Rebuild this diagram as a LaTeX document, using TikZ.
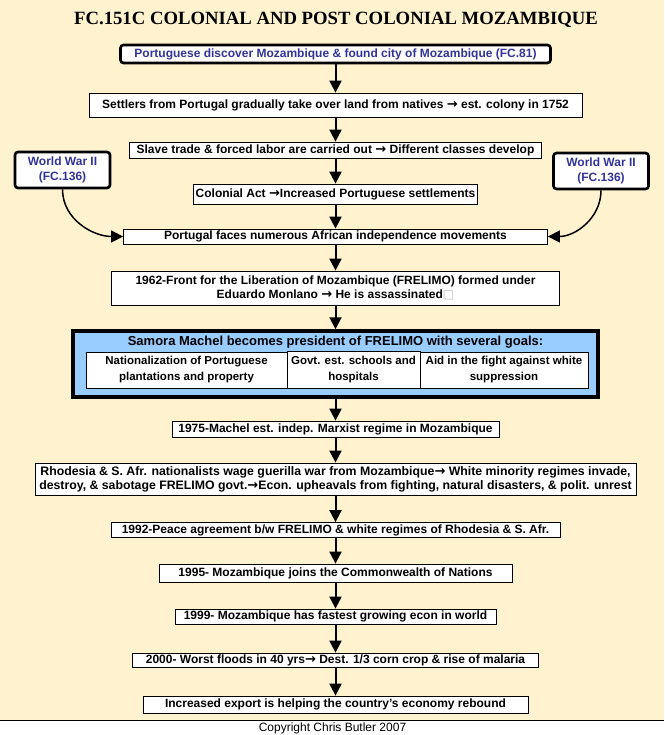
\documentclass[tikz,border=0pt]{standalone}
\usepackage{fontspec}
\setmainfont{Liberation Sans}
\newfontfamily\titlefont{Liberation Serif}
\newfontfamily\symfont{DejaVu Sans}
\usetikzlibrary{arrows.meta}
\definecolor{bgyellow}{RGB}{255,242,207}
\definecolor{boxblue}{RGB}{153,204,255}
\definecolor{linkblue}{RGB}{51,51,153}
\newcommand{\rar}{{\symfont\bfseries\fontsize{13}{14}\selectfont →}}
\begin{document}
\begin{tikzpicture}[x=1pt,y=-1pt,
  stepbox/.style={draw=black,fill=white,line width=0.8pt,inner sep=0pt,align=center,
    font=\bfseries\fontsize{12}{14}\selectfont},
  linkbox/.style={draw=black,fill=white,line width=2.6pt,rounded corners=3pt,inner sep=0pt,align=center,
    text=linkblue,font=\bfseries\fontsize{12}{15}\selectfont},
  subbox/.style={draw=black,fill=white,line width=0.8pt,inner sep=0pt,align=center,
    font=\bfseries\fontsize{11.5}{16}\selectfont},
  flow/.style={line width=2pt,-{Triangle[width=12pt,length=12pt]}},
  curve/.style={line width=1.5pt,-{Triangle[width=12pt,length=12pt]}}
]
\useasboundingbox (0,0) rectangle (664,735);
\fill[bgyellow] (0,0) rectangle (664,720);
\fill[white] (0,720) rectangle (664,735);
\draw[line width=1pt] (0,720) -- (664,720);

\node[font=\titlefont\bfseries\fontsize{18.7}{22}\selectfont] (title) at (336,20) {FC.151C COLONIAL AND POST COLONIAL MOZAMBIQUE};

\node[linkbox,minimum width=430pt,minimum height=18pt] (b1) at (335.5,54) {Portuguese discover Mozambique \& found city of Mozambique (FC.81)};
\node[stepbox,minimum width=493pt,minimum height=24pt] (b2) at (335.5,105) {Settlers from Portugal gradually take over land from natives \rar\ est. colony in 1752};
\node[stepbox,minimum width=412pt,minimum height=16pt] (b3) at (335.5,150) {Slave trade \& forced labor are carried out \rar\ Different classes develop};
\node[stepbox,minimum width=284pt,minimum height=20pt] (b4) at (335.5,194) {Colonial Act \rar Increased Portuguese settlements};
\node[stepbox,minimum width=424pt,minimum height=15pt] (b5) at (335.5,236.5) {Portugal faces numerous African independence movements};
\node[linkbox,minimum width=95pt,minimum height=36pt] (wl) at (62.5,170) {World War II\\(FC.136)};
\node[linkbox,minimum width=95pt,minimum height=36pt] (wr) at (601,171) {World War II\\(FC.136)};
\node[stepbox,minimum width=448pt,minimum height=34pt] (b6) at (335.5,288) {1962-Front for the Liberation of Mozambique (FRELIMO) formed under\\Eduardo Monlano \rar\ He is assassinated{\symfont\color{gray!50}□}};

\node[draw=black,fill=boxblue,line width=3.5pt,minimum width=525pt,minimum height=66pt,inner sep=0pt] (b7) at (335.5,364) {};
\node[font=\bfseries\fontsize{13}{15}\selectfont,inner sep=0pt] (b7t) at (335.5,342) {Samora Machel becomes president of FRELIMO with several goals:};
\node[subbox,minimum width=201pt,minimum height=36pt] (g1) at (186.5,370) {Nationalization of Portuguese\\plantations and property};
\node[subbox,minimum width=133pt,minimum height=37pt] (g2) at (353.5,369.5) {Govt. est. schools and\\hospitals};
\node[subbox,minimum width=168pt,minimum height=36pt] (g3) at (504,370) {Aid in the fight against white\\suppression};

\node[stepbox,minimum width=327pt,minimum height=16pt] (b8) at (335.5,429) {1975-Machel est. indep. Marxist regime in Mozambique};
\node[stepbox,minimum width=601pt,minimum height=32pt,font=\bfseries\fontsize{12.3}{14}\selectfont] (b9) at (335.5,479) {Rhodesia \& S. Afr. nationalists wage guerilla war from Mozambique\rar\ White minority regimes invade,\\destroy, \& sabotage FRELIMO govt.\rar Econ. upheavals from fighting, natural disasters, \& polit. unrest};
\node[stepbox,minimum width=449pt,minimum height=15pt] (b10) at (335.5,530) {1992-Peace agreement b/w FRELIMO \& white regimes of Rhodesia \& S. Afr.};
\node[stepbox,minimum width=353pt,minimum height=18pt] (b11) at (335.5,573) {1995- Mozambique joins the Commonwealth of Nations};
\node[stepbox,minimum width=321pt,minimum height=15pt] (b12) at (335.5,616.5) {1999- Mozambique has fastest growing econ in world};
\node[stepbox,minimum width=406pt,minimum height=14pt] (b13) at (335.5,660) {2000- Worst floods in 40 yrs\rar\ Dest. 1/3 corn crop \& rise of malaria};
\node[stepbox,minimum width=385pt,minimum height=17pt] (b14) at (335.5,704.5) {Increased export is helping the country’s economy rebound};

\node[font=\fontsize{12}{14}\selectfont] (copy) at (332.5,728) {Copyright Chris Butler 2007};

\draw[flow] (b1) -- (b2);
\draw[flow] (b2) -- (b3);
\draw[flow] (b3) -- (b4);
\draw[flow] (b4) -- (b5);
\draw[flow] (b5) -- (b6);
\draw[flow] (b6) -- (b7);
\draw[flow] (b7) -- (b8);
\draw[flow] (b8) -- (b9);
\draw[flow] (b9) -- (b10);
\draw[flow] (b10) -- (b11);
\draw[flow] (b11) -- (b12);
\draw[flow] (b12) -- (b13);
\draw[flow] (b13) -- (b14);
\draw[curve] (wl.south) to[out=-90,in=180] (b5.west);
\draw[curve] (wr.south) to[out=-90,in=0] (b5.east);
\end{tikzpicture}
\end{document}
